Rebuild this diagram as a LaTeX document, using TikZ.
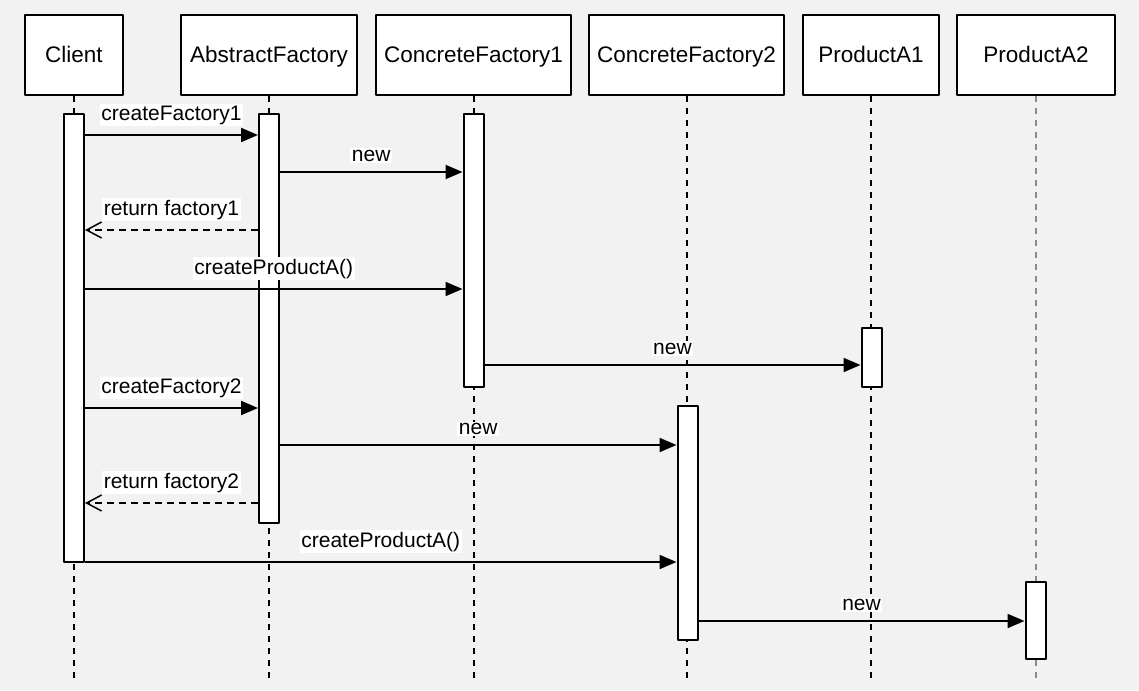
\documentclass[tikz,border=0pt]{standalone}
\usepackage{fontspec}
\setmainfont{Liberation Sans}
\usetikzlibrary{arrows.meta}
\definecolor{bggray}{HTML}{F2F2F2}
\definecolor{lifegray}{HTML}{8A8A8A}
\begin{document}
\begin{tikzpicture}[x=1pt, y=-1pt, font=\fontsize{21}{25}\selectfont, line join=round,
		obj/.style={draw, fill=white, line width=2pt, minimum height=80pt, inner sep=0pt, text height=18pt, text depth=2pt, font=\fontsize{22.5}{26}\selectfont},
		bar/.style={draw, fill=white, line width=2pt, minimum width=20pt, inner sep=0pt},
		life/.style={line width=2pt, dash pattern=on 6pt off 6pt},
		call/.style={line width=2pt, -{Triangle[length=17pt, width=14pt]}},
		back/.style={line width=2pt, dash pattern=on 7pt off 5pt, -{Straight Barb[length=15pt, width=16pt, line width=1.5pt]}},
		lbl/.style={fill=white, inner sep=1.5pt, above=8pt}]
	\fill[bggray] (0,0) rectangle (1139,690) ;
	\useasboundingbox (0,0) rectangle (1139,690) ;
	% objects
	\node[obj, minimum width=98pt] (cl) at (74,55) {Client} ;
	\node[obj, minimum width=176pt] (af) at (269,55) {AbstractFactory} ;
	\node[obj, minimum width=195pt] (cf1) at (473.5,55) {ConcreteFactory1} ;
	\node[obj, minimum width=195pt] (cf2) at (686.5,55) {ConcreteFactory2} ;
	\node[obj, minimum width=136pt] (pa1) at (871,55) {ProductA1} ;
	\node[obj, minimum width=158pt] (pa2) at (1036,55) {ProductA2} ;
	% lifelines
	\coordinate (end) at (0,680) ;
	\draw[life] (cl) -- (cl |- end) ;
	\draw[life] (af) -- (af |- end) ;
	\draw[life] (cf1) -- (cf1 |- end) ;
	\draw[life] (cf2) -- (cf2 |- end) ;
	\draw[life] (pa1) -- (pa1 |- end) ;
	\draw[life, lifegray] (pa2) -- (pa2 |- end) ;
	% activations
	\node[bar, minimum height=448pt] (clbar) at (74,338) {} ;
	\node[bar, minimum height=409pt] (afbar) at (269,318.5) {} ;
	\node[bar, minimum height=273pt] (cf1bar) at (473.5,250.5) {} ;
	\node[bar, minimum height=59pt] (pa1bar) at (871.5,357.5) {} ;
	\node[bar, minimum height=234pt] (cf2bar) at (687.5,523) {} ;
	\node[bar, minimum height=77pt] (pa2bar) at (1035.5,620.5) {} ;
	% messages
	\coordinate (m1) at (0,135) ;
	\coordinate (m2) at (0,172) ;
	\coordinate (m3) at (0,230) ;
	\coordinate (m4) at (0,289) ;
	\coordinate (m5) at (0,365) ;
	\coordinate (m6) at (0,408) ;
	\coordinate (m7) at (0,445) ;
	\coordinate (m8) at (0,503) ;
	\coordinate (m9) at (0,562) ;
	\coordinate (m10) at (0,621) ;
	\draw[call] (clbar.east |- m1) -- node[lbl] {createFactory1} (afbar.west |- m1) ;
	\draw[call] (afbar.east |- m2) -- node[lbl] {new} (cf1bar.west |- m2) ;
	\draw[back] (afbar.west |- m3) -- node[lbl] {return factory1} (clbar.east |- m3) ;
	\draw[call] (clbar.east |- m4) -- node[lbl] {createProductA()} (cf1bar.west |- m4) ;
	\draw[call] (cf1bar.east |- m5) -- node[lbl] {new} (pa1bar.west |- m5) ;
	\draw[call] (clbar.east |- m6) -- node[lbl] {createFactory2} (afbar.west |- m6) ;
	\draw[call] (afbar.east |- m7) -- node[lbl] {new} (cf2bar.west |- m7) ;
	\draw[back] (afbar.west |- m8) -- node[lbl] {return factory2} (clbar.east |- m8) ;
	\draw[call] (clbar.east |- m9) -- node[lbl] {createProductA()} (cf2bar.west |- m9) ;
	\draw[call] (cf2bar.east |- m10) -- node[lbl] {new} (pa2bar.west |- m10) ;
\end{tikzpicture}
\end{document}
